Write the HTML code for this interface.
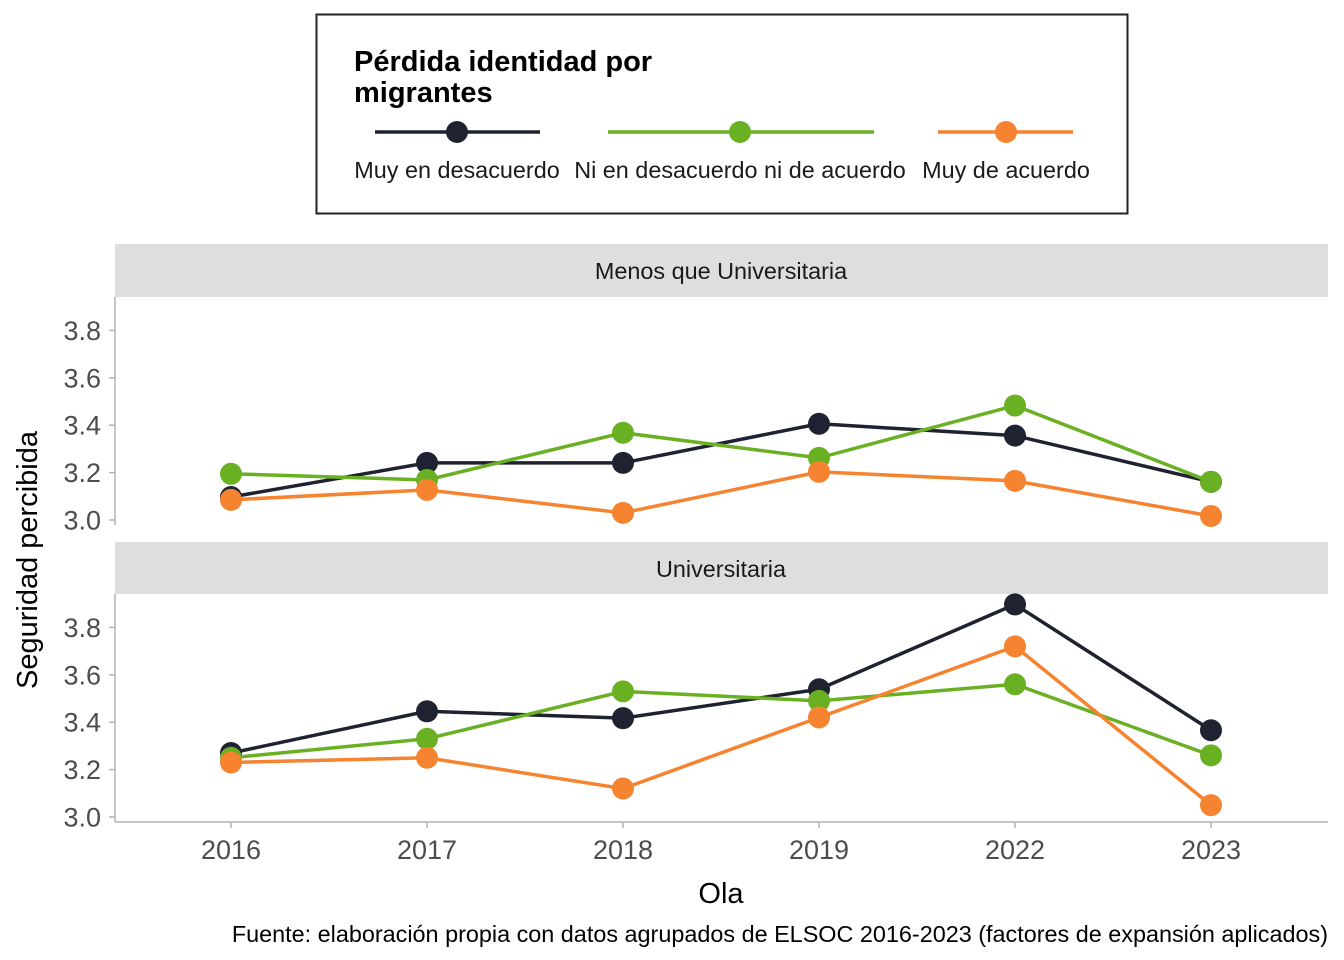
<!DOCTYPE html>
<html><head><meta charset="utf-8"><style>
body{margin:0;background:#fff;}
svg{display:block;font-family:"Liberation Sans",Arial,sans-serif;}
</style></head><body>
<svg id="chart" width="1344" height="960" viewBox="0 0 1344 960" xmlns="http://www.w3.org/2000/svg">
<g id="legend">
<rect x="316.5" y="14.5" width="811" height="199" fill="#fff" stroke="#222" stroke-width="2"/>
<text x="354" y="71" font-size="29" font-weight="bold">Pérdida identidad por</text>
<text x="354" y="102" font-size="29" font-weight="bold">migrantes</text>
</g>
<g id="plot"></g>
<text transform="translate(37,560) rotate(-90)" font-size="29" text-anchor="middle">Seguridad percibida</text>
<text x="721" y="903" font-size="29" text-anchor="middle">Ola</text>
<text x="1328" y="942" font-size="23.4" text-anchor="end">Fuente: elaboración propia con datos agrupados de ELSOC 2016-2023 (factores de expansión aplicados)</text>
</svg>
<script>
const categories=["2016","2017","2018","2019","2022","2023"];
const seriesNames=["Muy en desacuerdo","Ni en desacuerdo ni de acuerdo","Muy de acuerdo"];
const seriesColors=["#1f2230","#6ab023","#f5832f"];
const panelNames=["Menos que Universitaria","Universitaria"];
const p1Black=[3.097,3.241,3.241,3.406,3.356,3.161];
const p1Green=[3.195,3.169,3.368,3.262,3.483,3.161];
const p1Orange=[3.085,3.127,3.03,3.203,3.165,3.017];
const p2Black=[3.27,3.446,3.417,3.539,3.897,3.366];
const p2Green=[3.25,3.33,3.53,3.49,3.56,3.26];
const p2Orange=[3.23,3.25,3.12,3.42,3.72,3.05];
const yTicks=[3.0,3.2,3.4,3.6,3.8];
const panelData=[[p1Black,p1Green,p1Orange],[p2Black,p2Green,p2Orange]];
const NS="http://www.w3.org/2000/svg";
const plot=document.getElementById('plot');
function mk(tag,attrs,parent){const e=document.createElementNS(NS,tag);for(const k in attrs)e.setAttribute(k,attrs[k]);(parent||plot).appendChild(e);return e;}
const xScale=i=>231+i*196;
const panels=[{strip:244,top:297,bottom:525,y0:520},{strip:542,top:594,bottom:822,y0:817}];
const pxPerUnit=237;
panels.forEach((p,pi)=>{
  const yScale=v=>p.y0-(v-3.0)*pxPerUnit;
  const s=mk('rect',{x:115,y:p.strip,width:1213,height:p.top-p.strip,fill:'#dedede'});
  
  
  const st=mk('text',{x:721,y:p.strip+35,'font-size':23.4,'text-anchor':'middle',fill:'#1a1a1a'});
  st.textContent=panelNames[pi];
  
  
  const ax=mk('line',{x1:115,x2:115,y1:p.top,y2:p.bottom,stroke:'#b3b3b3','stroke-width':1.5});
  
  
  yTicks.forEach(t=>{
    const y=yScale(t);
    const tk=mk('line',{x1:109,x2:115,y1:y,y2:y,stroke:'#b3b3b3','stroke-width':1.5});
    
    
    const tl=mk('text',{x:101,y:y+9.5,'font-size':27,'text-anchor':'end',fill:'#4d4d4d'});
    tl.textContent=t.toFixed(1);
    
    
  });
  panelData[pi].forEach((vals,si)=>{
    const pts=vals.map((v,i)=>xScale(i)+','+yScale(v)).join(' ');
    const pl=mk('polyline',{points:pts,fill:'none',stroke:seriesColors[si],'stroke-width':3.5});
    
    
    vals.forEach((v,i)=>{
      const c=mk('circle',{cx:xScale(i),cy:yScale(v),r:11,fill:seriesColors[si]});
      
      
    });
  });
});
const xa=mk('line',{x1:115,x2:1328,y1:822,y2:822,stroke:'#b3b3b3','stroke-width':1.5});


categories.forEach((c,i)=>{
  const x=xScale(i);
  const tk=mk('line',{x1:x,x2:x,y1:822,y2:828,stroke:'#b3b3b3','stroke-width':1.5});
  
  
  const tl=mk('text',{x:x,y:859,'font-size':27,'text-anchor':'middle',fill:'#4d4d4d'});
  tl.textContent=c;
  
  
});
const legend=document.getElementById('legend');
const keys=[{x1:375,x2:540,cx:457,lx:457},{x1:608,x2:874,cx:740,lx:740},{x1:938,x2:1073,cx:1006,lx:1006}];
keys.forEach((k,si)=>{
  const l=mk('line',{x1:k.x1,x2:k.x2,y1:132,y2:132,stroke:seriesColors[si],'stroke-width':3.5},legend);
  
  
  const c=mk('circle',{cx:k.cx,cy:132,r:11,fill:seriesColors[si]},legend);
  
  
  const t=mk('text',{x:k.lx,y:178,'font-size':23.4,'text-anchor':'middle',fill:'#1a1a1a'},legend);
  t.textContent=seriesNames[si];
  
  
});
</script>
</body></html>
